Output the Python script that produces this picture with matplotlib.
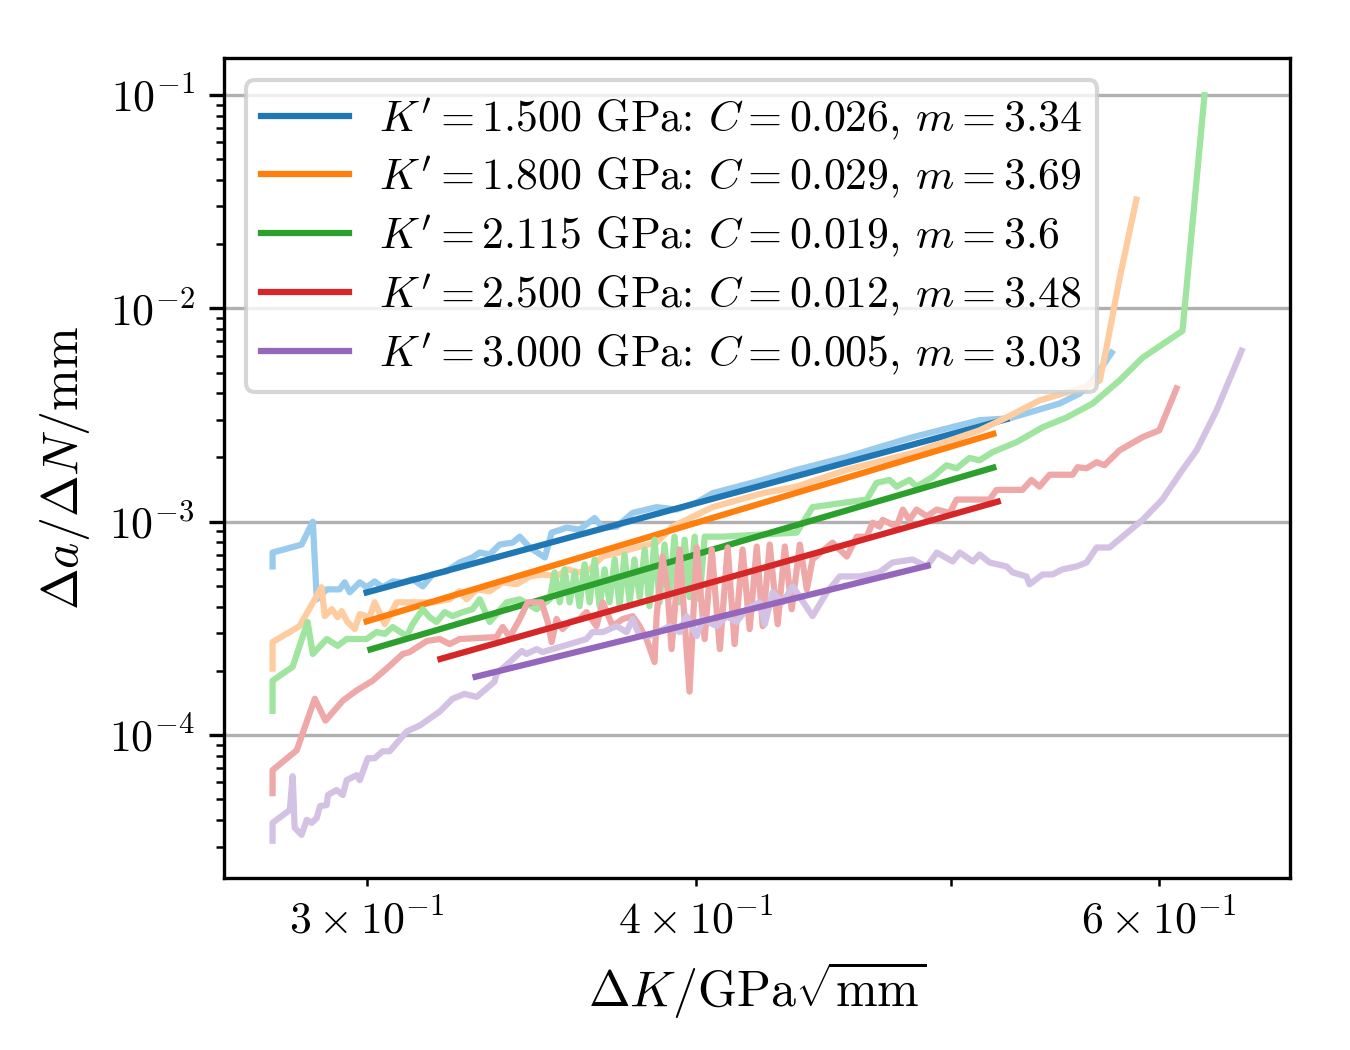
import colorsys
import numpy as np
import matplotlib
matplotlib.use('Agg')
import matplotlib.pyplot as plt
import matplotlib.colors as mcolors

plt.rcParams['font.family'] = 'serif'
plt.rcParams['font.serif'] = ['cmr10']
plt.rcParams['mathtext.fontset'] = 'cm'
plt.rcParams['axes.formatter.use_mathtext'] = True
plt.rcParams['font.size'] = 10.5

# crack growth rate vs stress intensity range, one curve per K'
K_vals = [1.5, 1.8, 2.115, 2.5, 3.0]
C_vals = [0.026, 0.029, 0.019, 0.012, 0.0054]
m_vals = [3.34, 3.69, 3.6, 3.48, 3.03]
fit_lo = [0.300, 0.300, 0.301, 0.320, 0.330]
fit_hi = [0.525, 0.519, 0.519, 0.521, 0.490]
colors = ['tab:blue', 'tab:orange', 'tab:green', 'tab:red', 'tab:purple']

dk_15 = [0.2763, 0.2763, 0.2834, 0.2862, 0.2872, 0.2897, 0.2930, 0.2943, 0.2956, 0.2982,
         0.3000, 0.3021, 0.3042, 0.3069, 0.3096, 0.3123, 0.3151, 0.3178, 0.3217, 0.3254,
         0.3291, 0.3312, 0.3341, 0.3370, 0.3409, 0.3430, 0.3460, 0.3506, 0.3527, 0.3574,
         0.3614, 0.3662, 0.3688, 0.3733, 0.3786, 0.3866, 0.3934, 0.4004, 0.4060, 0.4242,
         0.4370, 0.4565, 0.4837, 0.5128, 0.5264, 0.5500, 0.5598, 0.5661, 0.5756]
da_15 = [6.17e-4, 7.17e-4, 7.81e-4, 1.00e-3, 4.33e-4, 4.82e-4, 4.82e-4, 5.20e-4, 4.67e-4, 5.20e-4,
         4.93e-4, 5.25e-4, 4.93e-4, 5.25e-4, 5.20e-4, 5.37e-4, 4.98e-4, 5.66e-4, 5.85e-4, 6.44e-4,
         6.80e-4, 7.17e-4, 7.02e-4, 7.81e-4, 7.98e-4, 8.51e-4, 7.57e-4, 6.80e-4, 8.89e-4, 9.38e-4,
         9.18e-4, 1.04e-3, 9.38e-4, 9.48e-4, 1.10e-3, 1.17e-3, 1.14e-3, 1.23e-3, 1.36e-3, 1.57e-3,
         1.75e-3, 2.01e-3, 2.49e-3, 2.99e-3, 3.05e-3, 3.58e-3, 3.99e-3, 4.59e-3, 6.19e-3]

dk_18 = [0.2763, 0.2763, 0.2829, 0.2884, 0.2892, 0.2910, 0.2925, 0.2935, 0.2950, 0.2969,
         0.2982, 0.3008, 0.3021, 0.3048, 0.3080, 0.3123, 0.3178, 0.3226, 0.3254, 0.3274,
         0.3303, 0.3341, 0.3379, 0.3421, 0.3460, 0.3499, 0.3542, 0.3574, 0.3614, 0.3646,
         0.3687, 0.3743, 0.3799, 0.3866, 0.3920, 0.4060, 0.4242, 0.4370, 0.4565, 0.4837,
         0.5128, 0.5251, 0.5404, 0.5612, 0.5697, 0.5730, 0.5796, 0.5882]
da_18 = [2.05e-4, 2.73e-4, 3.24e-4, 4.93e-4, 3.61e-4, 3.89e-4, 3.57e-4, 3.81e-4, 3.39e-4, 3.14e-4,
         3.69e-4, 3.57e-4, 4.19e-4, 3.31e-4, 4.19e-4, 4.19e-4, 4.19e-4, 4.33e-4, 4.72e-4, 4.33e-4,
         4.82e-4, 4.72e-4, 5.20e-4, 5.09e-4, 5.54e-4, 5.66e-4, 5.54e-4, 5.98e-4, 5.79e-4, 5.98e-4,
         6.87e-4, 7.17e-4, 7.57e-4, 7.98e-4, 9.48e-4, 1.17e-3, 1.36e-3, 1.46e-3, 1.75e-3, 2.10e-3,
         2.68e-3, 3.08e-3, 3.70e-3, 4.25e-3, 4.59e-3, 6.53e-3, 1.38e-2, 3.23e-2]

dk_21 = [0.2763, 0.2763, 0.2812, 0.2849, 0.2862, 0.2897, 0.2925, 0.2948, 0.3000, 0.3026,
         0.3048, 0.3069, 0.3107, 0.3123, 0.3151, 0.3170, 0.3189, 0.3212, 0.3234, 0.3263,
         0.3291, 0.3312, 0.3341, 0.3391, 0.3430, 0.3481, 0.3521,
         0.3536, 0.3552, 0.3567, 0.3583, 0.3599, 0.3614, 0.3630, 0.3646, 0.3662, 0.3678,
         0.3694, 0.3710, 0.3727, 0.3743, 0.3759, 0.3776, 0.3792, 0.3809, 0.3826, 0.3842,
         0.3859, 0.3876, 0.3893, 0.3910, 0.3927, 0.3945, 0.3962, 0.3979, 0.3997, 0.4014, 0.4032,
         0.4096, 0.4370, 0.4431, 0.4646, 0.4686, 0.4740, 0.4769, 0.4823, 0.4853, 0.4922,
         0.4982, 0.5026, 0.5083, 0.5128, 0.5187, 0.5297, 0.5419, 0.5534, 0.5661, 0.5796,
         0.5914, 0.6124, 0.6243]
da_21 = [1.30e-4, 1.80e-4, 2.09e-4, 3.39e-4, 2.40e-4, 2.82e-4, 2.62e-4, 2.82e-4, 2.82e-4, 3.04e-4,
         2.98e-4, 3.21e-4, 2.91e-4, 3.31e-4, 3.89e-4, 3.57e-4, 3.39e-4, 3.77e-4, 3.61e-4, 3.77e-4,
         3.89e-4, 4.33e-4, 3.39e-4, 4.19e-4, 4.33e-4, 3.89e-4, 4.33e-4,
         5.79e-4, 4.19e-4, 5.98e-4, 4.19e-4, 5.79e-4, 4.02e-4, 6.31e-4, 4.19e-4, 6.65e-4, 4.02e-4,
         5.98e-4, 4.19e-4, 6.65e-4, 4.02e-4, 7.02e-4, 4.19e-4, 6.65e-4, 4.43e-4, 7.41e-4, 4.02e-4,
         8.24e-4, 4.19e-4, 7.81e-4, 4.43e-4, 8.51e-4, 4.19e-4, 8.24e-4, 4.43e-4, 8.51e-4, 4.33e-4, 8.51e-4,
         8.51e-4, 8.89e-4, 1.17e-3, 1.27e-3, 1.52e-3, 1.57e-3, 1.46e-3, 1.57e-3, 1.46e-3, 1.62e-3,
         1.84e-3, 1.78e-3, 1.99e-3, 1.94e-3, 2.12e-3, 2.36e-3, 2.77e-3, 3.08e-3, 3.58e-3, 4.59e-3,
         5.87e-3, 7.84e-3, 9.96e-2]

dk_25 = [0.2763, 0.2763, 0.2822, 0.2867, 0.2894, 0.2938, 0.2974, 0.3016, 0.3061, 0.3096,
         0.3115, 0.3162, 0.3198, 0.3226, 0.3254, 0.3361, 0.3379, 0.3400, 0.3430, 0.3454,
         0.3496, 0.3515, 0.3527, 0.3542, 0.3561, 0.3583, 0.3614, 0.3636, 0.3668, 0.3688,
         0.3720, 0.3753, 0.3786, 0.3809, 0.3832, 0.3859, 0.3866, 0.3886, 0.3903,
         0.3917, 0.3945, 0.3979, 0.4004, 0.4032, 0.4057, 0.4086, 0.4114, 0.4139, 0.4168,
         0.4194, 0.4220, 0.4242, 0.4268, 0.4298, 0.4325, 0.4351, 0.4382, 0.4409, 0.4431,
         0.4509, 0.4566, 0.4606, 0.4646, 0.4670, 0.4699, 0.4711, 0.4769, 0.4795, 0.4823,
         0.4853, 0.4897, 0.4940, 0.4996, 0.5026, 0.5173, 0.5205, 0.5324, 0.5366, 0.5404,
         0.5452, 0.5563, 0.5587, 0.5631, 0.5681, 0.5720, 0.5796, 0.5914, 0.6001, 0.6092]
da_25 = [5.35e-5, 6.85e-5, 8.49e-5, 1.48e-4, 1.17e-4, 1.45e-4, 1.62e-4, 1.80e-4, 2.11e-4, 2.40e-4,
         2.45e-4, 2.76e-4, 2.82e-4, 2.67e-4, 2.82e-4, 2.88e-4, 3.21e-4, 2.88e-4, 3.50e-4, 4.19e-4,
         4.19e-4, 3.39e-4, 2.73e-4, 3.50e-4, 3.14e-4, 3.39e-4, 3.50e-4, 3.77e-4, 3.24e-4, 4.19e-4,
         3.24e-4, 3.50e-4, 3.61e-4, 3.24e-4, 2.82e-4, 2.20e-4, 3.61e-4, 6.87e-4, 4.82e-4,
         2.53e-4, 7.41e-4, 1.60e-4, 7.57e-4, 2.82e-4, 7.41e-4, 2.53e-4, 7.57e-4, 2.67e-4, 7.41e-4,
         3.14e-4, 7.65e-4, 3.24e-4, 7.81e-4, 3.31e-4, 7.65e-4, 3.89e-4, 7.81e-4, 4.82e-4, 6.65e-4,
         7.98e-4, 6.87e-4, 8.51e-4, 8.51e-4, 9.89e-4, 9.48e-4, 1.02e-3, 9.48e-4, 1.14e-3, 1.02e-3,
         1.14e-3, 1.06e-3, 1.14e-3, 1.10e-3, 1.27e-3, 1.27e-3, 1.41e-3, 1.41e-3, 1.57e-3, 1.46e-3,
         1.66e-3, 1.66e-3, 1.80e-3, 1.78e-3, 1.90e-3, 1.84e-3, 2.16e-3, 2.49e-3, 2.68e-3, 4.21e-3]

dk_30 = [0.2763, 0.2763, 0.2805, 0.2812, 0.2817, 0.2834, 0.2847, 0.2859, 0.2872, 0.2880,
         0.2897, 0.2900, 0.2922, 0.2938, 0.2948, 0.2974, 0.2982, 0.3003, 0.3021, 0.3042,
         0.3061, 0.3107, 0.3143, 0.3198, 0.3234, 0.3268, 0.3303, 0.3355, 0.3361, 0.3400,
         0.3436, 0.3450, 0.3481, 0.3499, 0.3530, 0.3583, 0.3636, 0.3655, 0.3688, 0.3733,
         0.3766, 0.3786, 0.3809, 0.3842, 0.3910, 0.3945, 0.3969, 0.4004, 0.4025, 0.4075,
         0.4110, 0.4146, 0.4183, 0.4231, 0.4250, 0.4279, 0.4317, 0.4355, 0.4431, 0.4487,
         0.4538, 0.4618, 0.4697, 0.4752, 0.4836, 0.4897, 0.4940, 0.5009, 0.5040, 0.5098,
         0.5128, 0.5173, 0.5251, 0.5278, 0.5343, 0.5357, 0.5419, 0.5466, 0.5514, 0.5582,
         0.5631, 0.5681, 0.5745, 0.5811, 0.5914, 0.6017, 0.6124, 0.6200, 0.6309, 0.6449]
da_30 = [3.20e-5, 3.88e-5, 4.46e-5, 6.42e-5, 3.68e-5, 3.41e-5, 4.01e-5, 3.88e-5, 4.09e-5, 4.65e-5,
         4.70e-5, 5.24e-5, 5.53e-5, 5.24e-5, 6.15e-5, 6.49e-5, 6.15e-5, 7.79e-5, 7.79e-5, 8.40e-5,
         8.40e-5, 1.04e-4, 1.11e-4, 1.29e-4, 1.48e-4, 1.56e-4, 1.51e-4, 1.78e-4, 1.94e-4, 2.20e-4,
         2.48e-4, 2.40e-4, 2.53e-4, 2.45e-4, 2.53e-4, 2.67e-4, 2.82e-4, 3.04e-4, 3.04e-4, 3.24e-4,
         3.04e-4, 3.50e-4, 2.91e-4, 2.91e-4, 3.24e-4, 3.04e-4, 3.61e-4, 2.91e-4, 3.50e-4, 3.24e-4,
         3.61e-4, 3.39e-4, 3.89e-4, 4.19e-4, 3.31e-4, 4.67e-4, 4.19e-4, 4.98e-4, 3.61e-4, 4.67e-4,
         5.54e-4, 5.54e-4, 5.79e-4, 6.44e-4, 6.65e-4, 6.17e-4, 7.17e-4, 6.51e-4, 7.17e-4, 6.51e-4,
         7.02e-4, 6.44e-4, 6.17e-4, 5.79e-4, 5.54e-4, 5.09e-4, 5.66e-4, 5.66e-4, 5.98e-4, 6.17e-4,
         6.44e-4, 7.57e-4, 7.57e-4, 8.51e-4, 1.02e-3, 1.27e-3, 1.75e-3, 2.16e-3, 3.32e-3, 6.33e-3]

dk_all = [dk_15, dk_18, dk_21, dk_25, dk_30]
da_all = [da_15, da_18, da_21, da_25, da_30]


def lighten(color, amount=0.4):
    h, l, s = colorsys.rgb_to_hls(*mcolors.to_rgb(color))
    return colorsys.hls_to_rgb(h, 1 - amount * (1 - l), s)


fig = plt.figure(figsize=(4.5, 3.5), dpi=300)
ax = fig.add_subplot(111)
fig.subplots_adjust(left=0.166, right=0.9556, bottom=0.1638, top=0.9448)

for i in range(len(K_vals)):
    ax.plot(dk_all[i], da_all[i], '-', color=lighten(colors[i]))
    xf = np.array([fit_lo[i], fit_hi[i]])
    lbl = r"$K' = %.3f$ GPa: $C = %.3f$, $m = %s$" % (K_vals[i], C_vals[i], m_vals[i])
    ax.plot(xf, C_vals[i] * xf ** m_vals[i], '-', color=colors[i], label=lbl)

ax.set_xscale('log')
ax.set_yscale('log')
ax.set_xlabel(r'$\Delta K / \mathrm{GPa}\sqrt{\mathrm{mm}}$', fontsize=12)
ax.set_ylabel(r'$\Delta a / \Delta N / \mathrm{mm}$', fontsize=12)
ax.grid(True)
ax.legend(loc='upper left', labelspacing=0.28, handletextpad=0.7, borderpad=0.35)

fig.savefig('out.png', dpi=300)
